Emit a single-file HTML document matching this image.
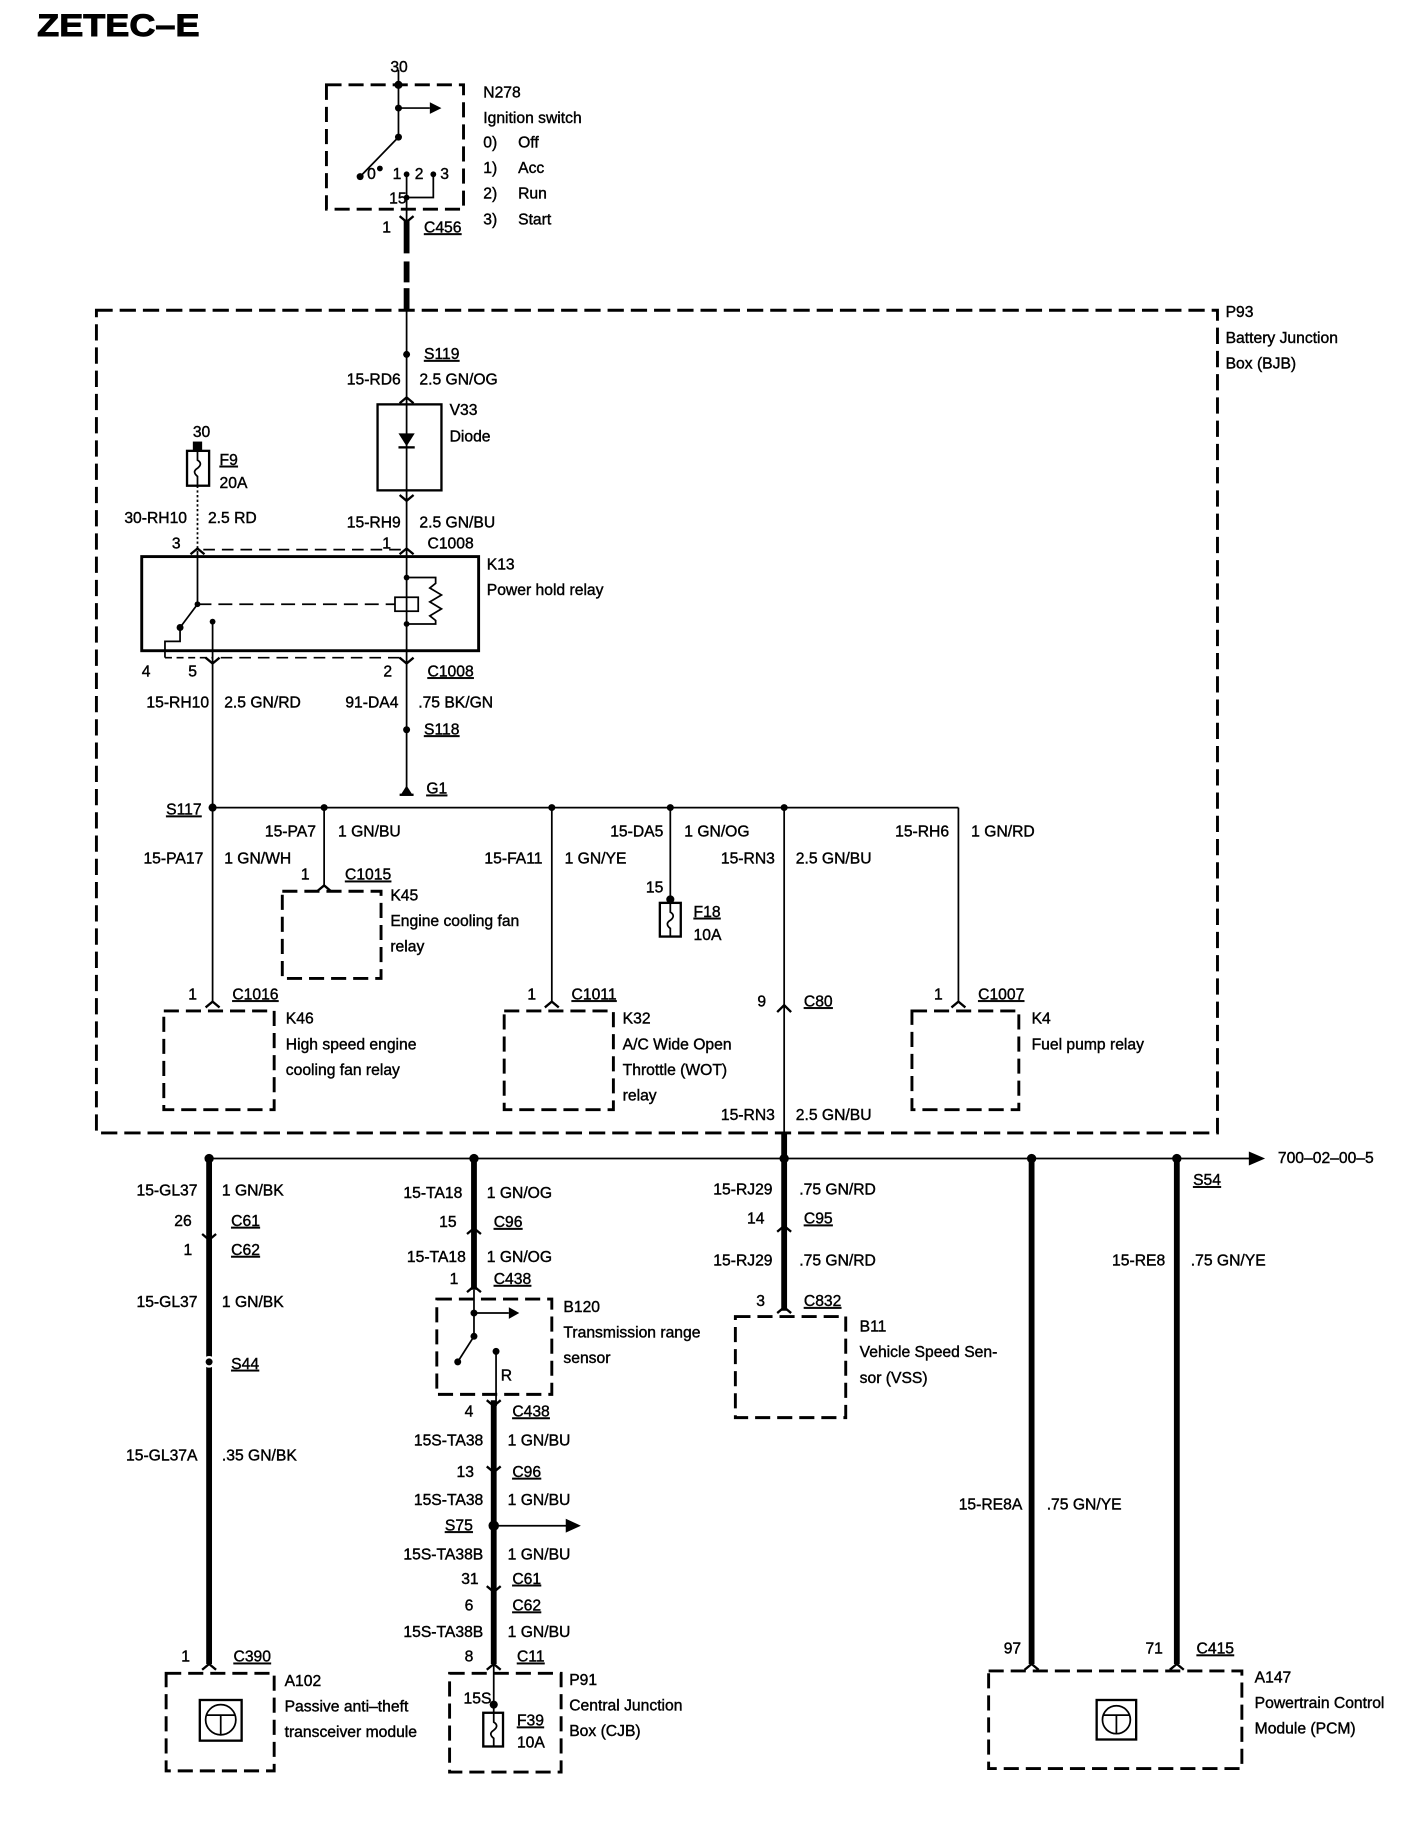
<!DOCTYPE html>
<html><head><meta charset="utf-8"><style>
html,body{margin:0;padding:0;background:#fff;}
svg{display:block;}
text{font-family:"Liberation Sans",sans-serif;font-size:13.5px;fill:#000;stroke:#000;stroke-width:0.35px;}
.u{text-decoration:underline;}
.e{text-anchor:end;}
</style></head><body>
<svg width="1408" height="1822" viewBox="0 0 1212 1568" preserveAspectRatio="none" xmlns="http://www.w3.org/2000/svg">
<g fill="none" stroke="#000">
<rect x="281" y="73" width="118" height="107" stroke-width="2.5" stroke-dasharray="13 6"/>
<line x1="343" y1="60" x2="343" y2="118" stroke-width="1.5"/>
<line x1="343" y1="93" x2="370" y2="93" stroke-width="1.5"/>
<line x1="343" y1="118" x2="310" y2="152" stroke-width="1.5"/>
<line x1="350" y1="150" x2="350" y2="190" stroke-width="1.5"/>
<polyline points="373,150 373,170 350,170" stroke-width="1.5"/>
<line x1="350" y1="190" x2="350" y2="218" stroke-width="5"/>
<line x1="350" y1="225" x2="350" y2="243" stroke-width="5"/>
<line x1="350" y1="248" x2="350" y2="268" stroke-width="5"/>
<rect x="83" y="267" width="965" height="708" stroke-width="2.5" stroke-dasharray="14 6"/>
<line x1="350" y1="268" x2="350" y2="571" stroke-width="1.5"/>
<rect x="325" y="348" width="55" height="74" stroke-width="2"/>
<rect x="161" y="388" width="19" height="30" stroke-width="2"/>
<path d="M170,388 v8 q5,3 0,7 q-5,3 0,7 v8" stroke-width="1.5"/>
<line x1="170" y1="418" x2="170" y2="475" stroke-width="1.5" stroke-dasharray="2 2"/>
<line x1="175" y1="473" x2="345" y2="473" stroke-width="1.5" stroke-dasharray="10 6"/>
<rect x="122" y="479" width="290" height="81" stroke-width="2.5"/>
<line x1="170" y1="475" x2="170" y2="520" stroke-width="1.5"/>
<line x1="170" y1="520" x2="155" y2="540" stroke-width="1.5"/>
<polyline points="155,540 155,552 142,552 142,566" stroke-width="1.5"/>
<line x1="170" y1="520" x2="340" y2="520" stroke-width="1.5" stroke-dasharray="12 6"/>
<rect x="340" y="514" width="20" height="12" stroke-width="1.5"/>
<polyline points="350,497 375,497 375,502 370,506 380,512 370,518 380,524 370,530 375,534 375,537 350,537" stroke-width="1.5"/>
<line x1="183" y1="535" x2="183" y2="862" stroke-width="1.5"/>
<line x1="142" y1="566" x2="183" y2="566" stroke-width="1.5" stroke-dasharray="6 4"/>
<line x1="190" y1="566" x2="345" y2="566" stroke-width="1.5" stroke-dasharray="10 6"/>
<line x1="350" y1="571" x2="350" y2="682" stroke-width="1.5"/>
<line x1="344" y1="684" x2="356" y2="684" stroke-width="2"/>
<line x1="183" y1="695" x2="825" y2="695" stroke-width="1.5"/>
<line x1="825" y1="695" x2="825" y2="862" stroke-width="1.5"/>
<line x1="279" y1="695" x2="279" y2="762" stroke-width="1.5"/>
<line x1="475" y1="695" x2="475" y2="862" stroke-width="1.5"/>
<line x1="577" y1="695" x2="577" y2="777" stroke-width="1.5"/>
<line x1="675" y1="695" x2="675" y2="975" stroke-width="1.5"/>
<rect x="568" y="777" width="18" height="29" stroke-width="2"/>
<path d="M577,777 v8 q5,3 0,7 q-5,3 0,7 v7" stroke-width="1.5"/>
<rect x="243" y="767" width="85" height="75" stroke-width="2.5" stroke-dasharray="13 6"/>
<rect x="141" y="870" width="95" height="85" stroke-width="2.5" stroke-dasharray="13 6"/>
<rect x="434" y="870" width="94" height="85" stroke-width="2.5" stroke-dasharray="13 6"/>
<rect x="785" y="870" width="92" height="85" stroke-width="2.5" stroke-dasharray="13 6"/>
<path d="M177,867 l6,-5 l6,5 M273,767 l6,-5 l6,5 M469,867 l6,-5 l6,5 M819,867 l6,-5 l6,5 M669,871 l6,-6 l6,6 M344,347 l6,-5 l6,5 M164,477 l6,-5 l6,5 M344,477 l6,-5 l6,5" stroke-width="2"/>
<path d="M344,186 l6,5 l6,-5 M344,426 l6,5 l6,-5 M177,566 l6,5 l6,-5 M344,566 l6,5 l6,-5" stroke-width="2"/>
<line x1="180" y1="997" x2="1078" y2="997" stroke-width="1.5"/>
<line x1="675" y1="975" x2="675" y2="1128" stroke-width="5"/>
<line x1="180" y1="997" x2="180" y2="1432" stroke-width="5"/>
<line x1="408" y1="997" x2="408" y2="1110" stroke-width="5"/>
<line x1="425" y1="1205" x2="425" y2="1432" stroke-width="5"/>
<line x1="888" y1="997" x2="888" y2="1432" stroke-width="5"/>
<line x1="1013" y1="997" x2="1013" y2="1432" stroke-width="5"/>
<rect x="143" y="1440" width="93" height="84" stroke-width="2.5" stroke-dasharray="13 6"/>
<rect x="172" y="1463" width="36" height="35" stroke-width="2"/>
<circle cx="190" cy="1480" r="13" stroke-width="1.5"/>
<path d="M178,1476 h24 M190,1476 v17" stroke-width="1.5"/>
<rect x="376" y="1118" width="99" height="82" stroke-width="2.5" stroke-dasharray="13 6"/>
<line x1="408" y1="1110" x2="408" y2="1150" stroke-width="1.5"/>
<line x1="408" y1="1130" x2="438" y2="1130" stroke-width="1.5"/>
<line x1="408" y1="1150" x2="394" y2="1172" stroke-width="1.5"/>
<line x1="427" y1="1163" x2="427" y2="1210" stroke-width="1.5"/>
<line x1="425" y1="1313" x2="490" y2="1313" stroke-width="1.5"/>
<rect x="387" y="1440" width="96" height="85" stroke-width="2.5" stroke-dasharray="13 6"/>
<line x1="425" y1="1432" x2="425" y2="1474" stroke-width="1.5"/>
<rect x="416" y="1474" width="17" height="29" stroke-width="2"/>
<path d="M425,1474 v8 q5,3 0,7 q-5,3 0,7 v7" stroke-width="1.5"/>
<rect x="633" y="1133" width="95" height="87" stroke-width="2.5" stroke-dasharray="13 6"/>
<rect x="851" y="1438" width="218" height="84" stroke-width="2.5" stroke-dasharray="13 6"/>
<rect x="944" y="1463" width="34" height="34" stroke-width="2"/>
<circle cx="961" cy="1480" r="12" stroke-width="1.5"/>
<path d="M950,1476 h22 M961,1476 v16" stroke-width="1.5"/>
<path d="M174,1062 l6,5 l6,-5 M174,1437 l6,-5 l6,5 M402,1062 l6,-5 l6,5 M402,1112 l6,-5 l6,5 M419,1205 l6,5 l6,-5 M419,1262 l6,5 l6,-5 M419,1365 l6,5 l6,-5 M419,1437 l6,-5 l6,5 M669,1060 l6,-5 l6,5 M669,1130 l6,-5 l6,5 M882,1437 l6,-5 l6,5 M1007,1437 l6,-5 l6,5" stroke-width="2"/>
</g>
<g fill="#000">
<circle cx="343" cy="73" r="3.5"/><circle cx="343" cy="93" r="3"/><circle cx="343" cy="118" r="3"/>
<circle cx="310" cy="152" r="3"/><circle cx="327" cy="145" r="2.5"/><circle cx="350" cy="150" r="2.5"/><circle cx="373" cy="150" r="2.5"/><circle cx="350" cy="170" r="2.5"/>
<polygon points="370,88 380,93 370,98"/>
<circle cx="350" cy="305" r="3"/>
<polygon points="343,373 357,373 350,384"/><rect x="343" y="384" width="14" height="2"/>
<rect x="166" y="380" width="8" height="8"/>
<circle cx="170" cy="520" r="2.5"/><circle cx="155" cy="540" r="3"/><circle cx="183" cy="535" r="2.5"/>
<circle cx="350" cy="497" r="2.5"/><circle cx="350" cy="537" r="2.5"/>
<circle cx="350" cy="628" r="3"/>
<polygon points="345,684 350,676 355,684"/>
<circle cx="183" cy="695" r="3.5"/><circle cx="279" cy="695" r="3"/><circle cx="475" cy="695" r="3"/><circle cx="577" cy="695" r="3"/><circle cx="675" cy="695" r="3"/>
<circle cx="577" cy="774" r="3.5"/>
<circle cx="180" cy="997" r="4"/><circle cx="408" cy="997" r="4"/><circle cx="675" cy="997" r="4"/><circle cx="888" cy="997" r="4"/><circle cx="1013" cy="997" r="4"/>
<polygon points="1075,991 1089,997 1075,1003"/>
<circle cx="408" cy="1130" r="3"/><circle cx="408" cy="1150" r="3"/><circle cx="394" cy="1172" r="3"/><circle cx="427" cy="1163" r="3"/>
<polygon points="438,1125 447,1130 438,1135"/>
<circle cx="425" cy="1313" r="4.5"/><polygon points="487,1307 500,1313 487,1319"/>
<circle cx="425" cy="1467" r="3.5"/>
</g>
<circle cx="180" cy="1172" r="4" fill="#000" stroke="#fff" stroke-width="2"/>
<text x="32" y="31" transform="translate(32 0) scale(1.15 1) translate(-32 0)" style="font-size:27px;font-weight:bold;stroke-width:0.8px">ZETEC–E</text>
<text x="336" y="62">30</text>
<text x="416" y="84">N278</text>
<text x="416" y="106">Ignition switch</text>
<text x="416" y="127">0)</text><text x="446" y="127">Off</text>
<text x="416" y="149">1)</text><text x="446" y="149">Acc</text>
<text x="416" y="171">2)</text><text x="446" y="171">Run</text>
<text x="416" y="193">3)</text><text x="446" y="193">Start</text>
<text x="316" y="154">0</text><text x="338" y="154">1</text><text x="357" y="154">2</text><text x="379" y="154">3</text>
<text x="335" y="175">15</text>
<text x="329" y="200">1</text><text x="365" y="200" class="u">C456</text>
<text x="1055" y="273">P93</text><text x="1055" y="295">Battery Junction</text><text x="1055" y="317">Box (BJB)</text>
<text x="365" y="309" class="u">S119</text>
<text x="345" y="331" class="e">15-RD6</text><text x="361" y="331">2.5 GN/OG</text>
<text x="387" y="357">V33</text><text x="387" y="380">Diode</text>
<text x="166" y="376">30</text>
<text x="189" y="400" class="u">F9</text><text x="189" y="420">20A</text>
<text x="161" y="450" class="e">30-RH10</text><text x="179" y="450">2.5 RD</text>
<text x="345" y="454" class="e">15-RH9</text><text x="361" y="454">2.5 GN/BU</text>
<text x="148" y="472">3</text><text x="329" y="472">1</text><text x="368" y="472">C1008</text>
<text x="419" y="490">K13</text><text x="419" y="512">Power hold relay</text>
<text x="122" y="582">4</text><text x="162" y="582">5</text><text x="330" y="582">2</text><text x="368" y="582" class="u">C1008</text>
<text x="180" y="609" class="e">15-RH10</text><text x="193" y="609">2.5 GN/RD</text>
<text x="343" y="609" class="e">91-DA4</text><text x="360" y="609">.75 BK/GN</text>
<text x="365" y="632" class="u">S118</text>
<text x="367" y="683" class="u">G1</text>
<text x="143" y="701" class="u">S117</text>
<text x="272" y="720" class="e">15-PA7</text><text x="291" y="720">1 GN/BU</text>
<text x="571" y="720" class="e">15-DA5</text><text x="589" y="720">1 GN/OG</text>
<text x="817" y="720" class="e">15-RH6</text><text x="836" y="720">1 GN/RD</text>
<text x="175" y="743" class="e">15-PA17</text><text x="193" y="743">1 GN/WH</text>
<text x="467" y="743" class="e">15-FA11</text><text x="486" y="743">1 GN/YE</text>
<text x="667" y="743" class="e">15-RN3</text><text x="685" y="743">2.5 GN/BU</text>
<text x="259" y="757">1</text><text x="297" y="757" class="u">C1015</text>
<text x="336" y="775">K45</text><text x="336" y="797">Engine cooling fan</text><text x="336" y="819">relay</text>
<text x="556" y="768">15</text>
<text x="597" y="789" class="u">F18</text><text x="597" y="809">10A</text>
<text x="162" y="860">1</text><text x="200" y="860" class="u">C1016</text>
<text x="454" y="860">1</text><text x="492" y="860" class="u">C1011</text>
<text x="804" y="860">1</text><text x="842" y="860" class="u">C1007</text>
<text x="652" y="866">9</text><text x="692" y="866" class="u">C80</text>
<text x="246" y="881">K46</text><text x="246" y="903">High speed engine</text><text x="246" y="925">cooling fan relay</text>
<text x="536" y="881">K32</text><text x="536" y="903">A/C Wide Open</text><text x="536" y="925">Throttle (WOT)</text><text x="536" y="947">relay</text>
<text x="888" y="881">K4</text><text x="888" y="903">Fuel pump relay</text>
<text x="667" y="964" class="e">15-RN3</text><text x="685" y="964">2.5 GN/BU</text>
<text x="1100" y="1001">700–02–00–5</text>
<text x="170" y="1029" class="e">15-GL37</text><text x="191" y="1029">1 GN/BK</text>
<text x="398" y="1031" class="e">15-TA18</text><text x="419" y="1031">1 GN/OG</text>
<text x="665" y="1028" class="e">15-RJ29</text><text x="688" y="1028">.75 GN/RD</text>
<text x="1027" y="1020" class="u">S54</text>
<text x="150" y="1055">26</text><text x="199" y="1055" class="u">C61</text>
<text x="378" y="1056">15</text><text x="425" y="1056" class="u">C96</text>
<text x="643" y="1053">14</text><text x="692" y="1053" class="u">C95</text>
<text x="158" y="1080">1</text><text x="199" y="1080" class="u">C62</text>
<text x="401" y="1086" class="e">15-TA18</text><text x="419" y="1086">1 GN/OG</text>
<text x="665" y="1089" class="e">15-RJ29</text><text x="688" y="1089">.75 GN/RD</text>
<text x="1003" y="1089" class="e">15-RE8</text><text x="1025" y="1089">.75 GN/YE</text>
<text x="387" y="1105">1</text><text x="425" y="1105" class="u">C438</text>
<text x="651" y="1124">3</text><text x="692" y="1124" class="u">C832</text>
<text x="170" y="1125" class="e">15-GL37</text><text x="191" y="1125">1 GN/BK</text>
<text x="485" y="1129">B120</text><text x="485" y="1151">Transmission range</text><text x="485" y="1173">sensor</text>
<text x="740" y="1146">B11</text><text x="740" y="1168">Vehicle Speed Sen-</text><text x="740" y="1190">sor (VSS)</text>
<text x="199" y="1178" class="u">S44</text>
<text x="431" y="1188">R</text>
<text x="400" y="1219">4</text><text x="441" y="1219" class="u">C438</text>
<text x="416" y="1244" class="e">15S-TA38</text><text x="437" y="1244">1 GN/BU</text>
<text x="170" y="1257" class="e">15-GL37A</text><text x="191" y="1257">.35 GN/BK</text>
<text x="393" y="1271">13</text><text x="441" y="1271" class="u">C96</text>
<text x="416" y="1295" class="e">15S-TA38</text><text x="437" y="1295">1 GN/BU</text>
<text x="880" y="1299" class="e">15-RE8A</text><text x="901" y="1299">.75 GN/YE</text>
<text x="383" y="1317" class="u">S75</text>
<text x="416" y="1342" class="e">15S-TA38B</text><text x="437" y="1342">1 GN/BU</text>
<text x="397" y="1363">31</text><text x="441" y="1363" class="u">C61</text>
<text x="400" y="1386">6</text><text x="441" y="1386" class="u">C62</text>
<text x="416" y="1409" class="e">15S-TA38B</text><text x="437" y="1409">1 GN/BU</text>
<text x="400" y="1430">8</text><text x="445" y="1430" class="u">C11</text>
<text x="156" y="1430">1</text><text x="201" y="1430" class="u">C390</text>
<text x="864" y="1423">97</text><text x="986" y="1423">71</text><text x="1030" y="1423" class="u">C415</text>
<text x="245" y="1451">A102</text><text x="245" y="1473">Passive anti–theft</text><text x="245" y="1495">transceiver module</text>
<text x="490" y="1450">P91</text><text x="490" y="1472">Central Junction</text><text x="490" y="1494">Box (CJB)</text>
<text x="399" y="1466">15S</text>
<text x="445" y="1485" class="u">F39</text><text x="445" y="1504">10A</text>
<text x="1080" y="1448">A147</text><text x="1080" y="1470">Powertrain Control</text><text x="1080" y="1492">Module (PCM)</text>
</svg>
</body></html>
